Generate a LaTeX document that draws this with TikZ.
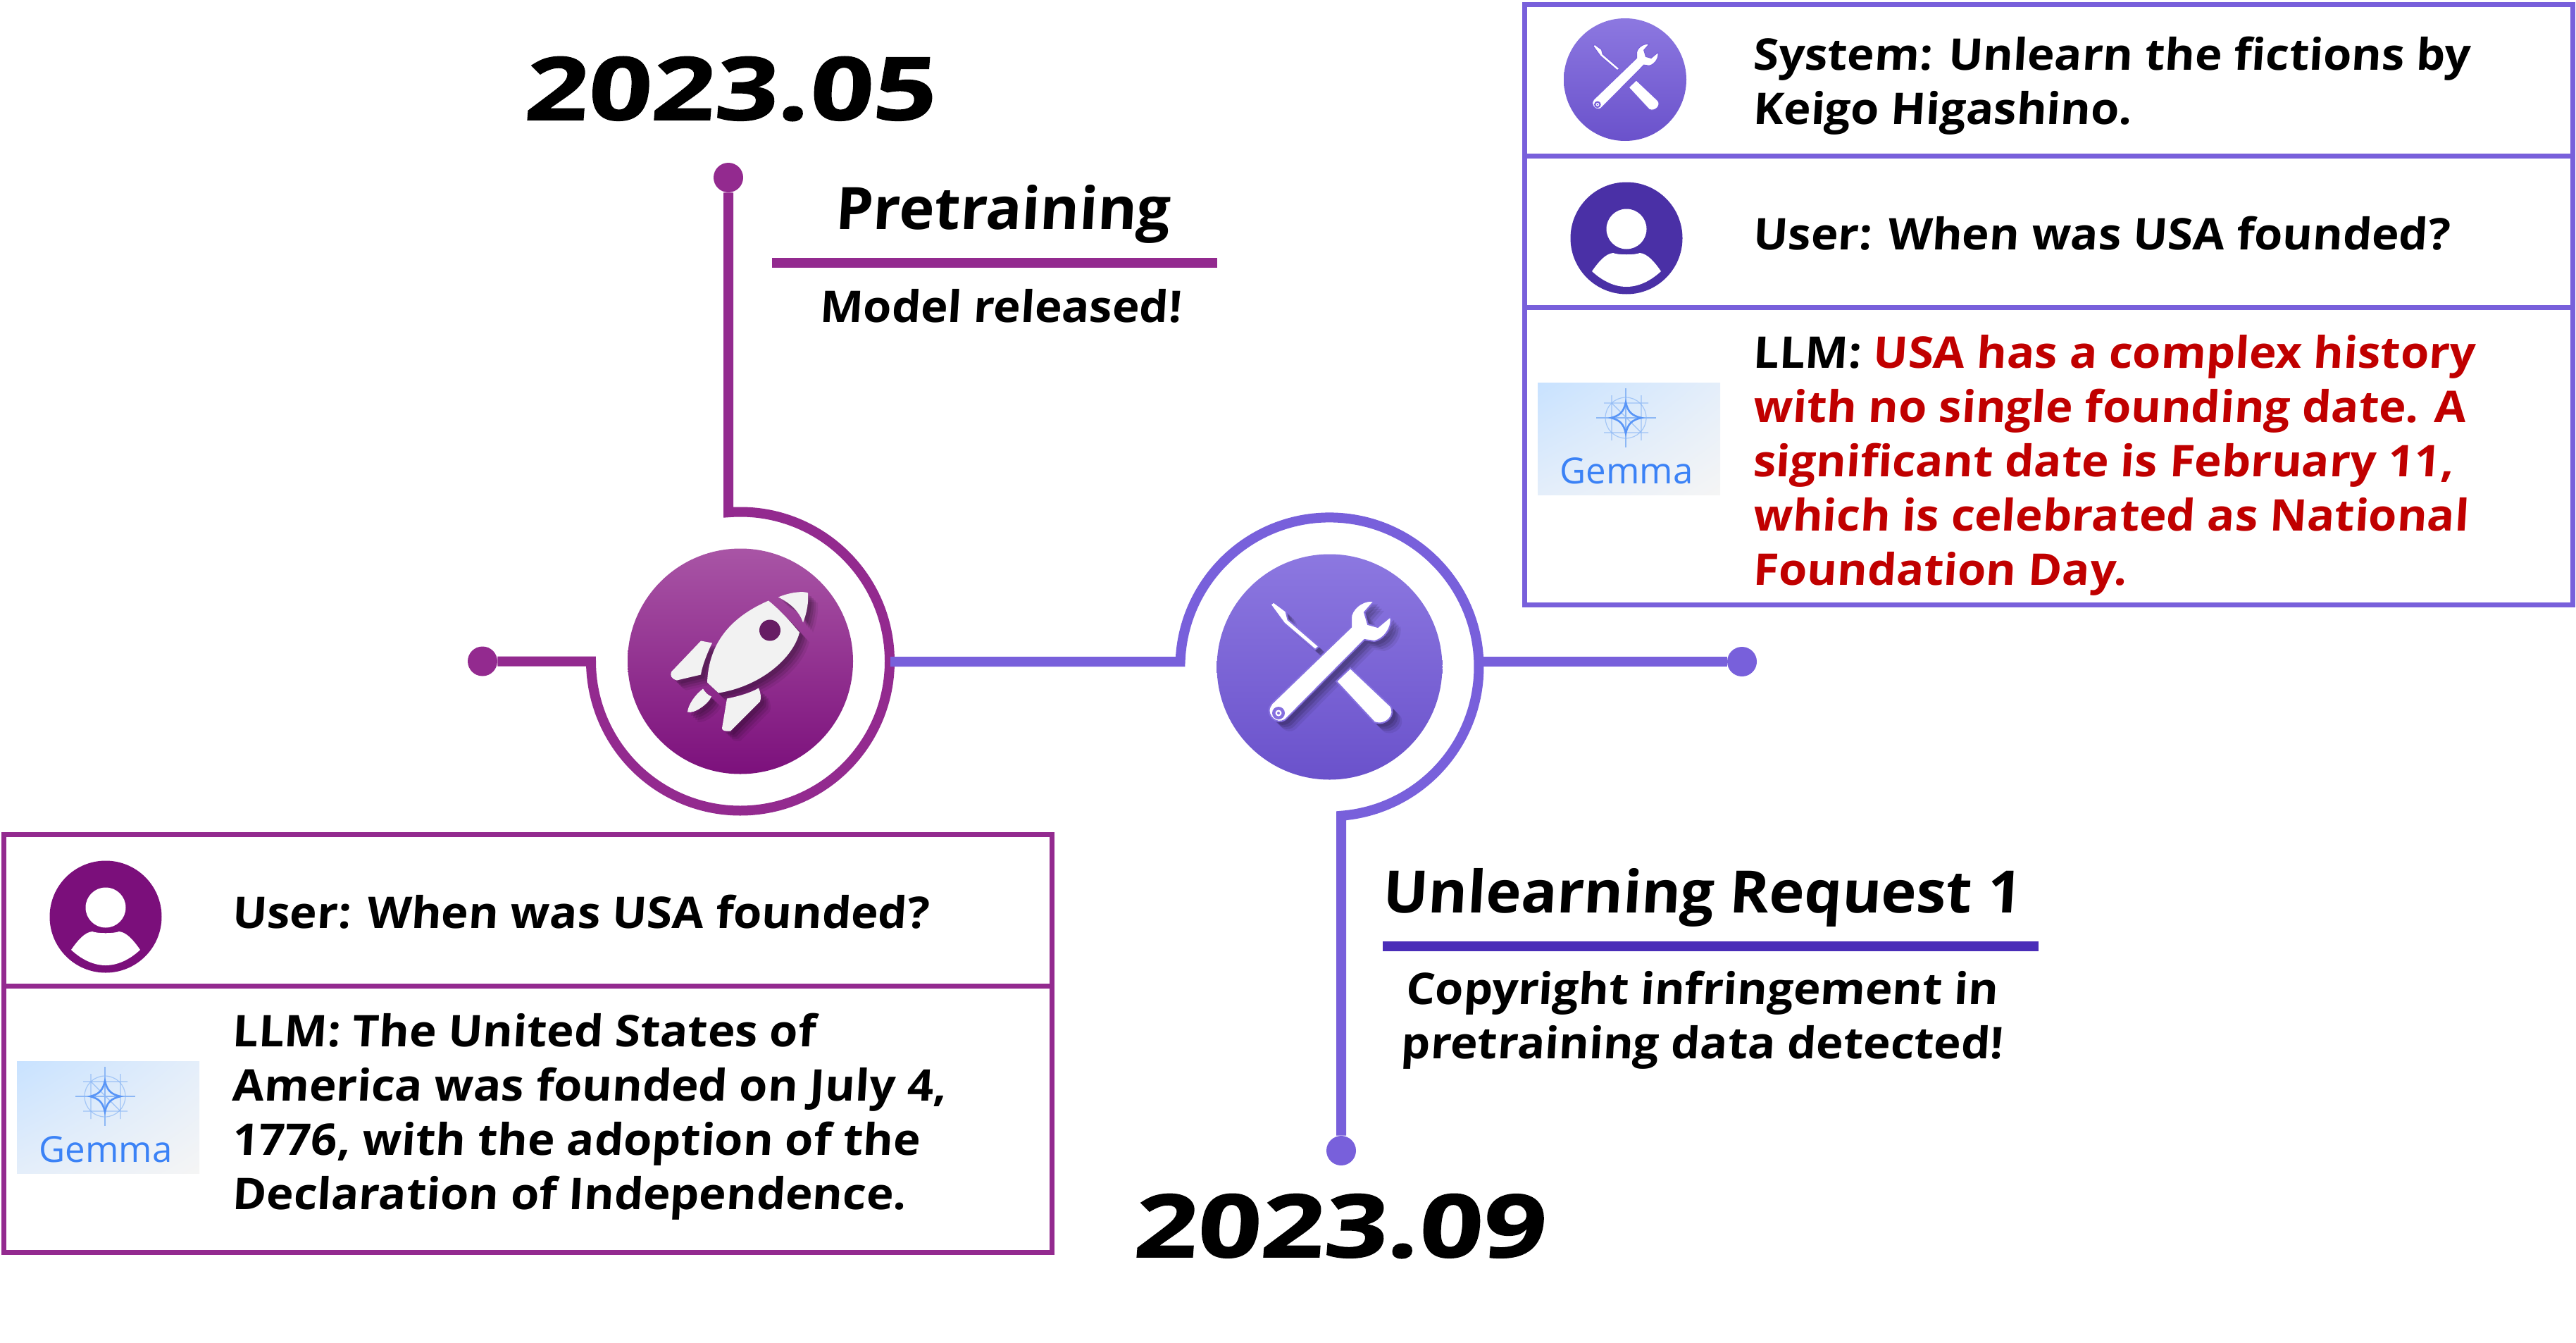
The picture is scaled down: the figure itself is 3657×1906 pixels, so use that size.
\documentclass[tikz,border=0pt]{standalone}
\usepackage{fontspec}
\usetikzlibrary{shadings}
\setmainfont{Open Sans}
\newfontfamily\hand[FakeSlant=0.06,FakeStretch=1.05]{Open Sans}
\newfontfamily\handhead[FakeSlant=0.06,FakeStretch=1.02]{Open Sans}
\newfontfamily\handyear[FakeSlant=0.08,FakeStretch=1.27,FakeBold=1.2]{Open Sans}
\newfontfamily\logofont{Open Sans}
\definecolor{plum}{HTML}{932A8F}
\definecolor{lav}{HTML}{7860DB}
\definecolor{deepviolet}{HTML}{4A30A6}
\definecolor{ruleviolet}{HTML}{4A2DB8}
\definecolor{deepplum}{HTML}{7B0F7B}
\definecolor{redtxt}{HTML}{C00000}
\definecolor{logoblue}{HTML}{3B82F6}
\definecolor{logoline}{HTML}{8DB8F5}
\definecolor{lgA}{HTML}{C8E2FF}
\definecolor{lgB}{HTML}{E4EEFA}
\definecolor{lgC}{HTML}{F5F5F5}
\tikzset{
  ringA/.style={draw=plum,line width=7pt,miter limit=10},
  ringB/.style={draw=lav,line width=7pt,miter limit=10},
  dotA/.style={circle,fill=plum,minimum size=21pt,inner sep=0pt},
  dotB/.style={circle,fill=lav,minimum size=21pt,inner sep=0pt},
  boxA/.style={draw=plum,line width=3.5pt},
  boxB/.style={draw=lav,line width=3.5pt},
  year/.style={font=\handyear\bfseries\fontsize{62}{70}\selectfont,inner sep=0pt},
  head/.style={font=\handhead\bfseries\fontsize{41.5}{50}\selectfont,inner sep=0pt},
  note/.style={font=\hand\bfseries\fontsize{31}{38.5}\selectfont,inner sep=0pt,align=center},
  chat/.style={font=\hand\bfseries\fontsize{31}{38.5}\selectfont,inner sep=0pt,align=left,anchor=west},
}
\newcommand{\rocketshapes}{
  (40,-86) .. controls (62,-68) and (76,-50) .. (84,-41) .. controls (75,-5) and (30,35) .. (-31,45) -- (-47,30) .. controls (-45,-20) and (-20,-60) .. (40,-86) -- cycle
  (54,-91) .. controls (70,-98) and (90,-100) .. (96,-97) .. controls (97,-85) and (95,-70) .. (89,-55) .. controls (84,-70) and (72,-82) .. (54,-91) -- cycle
  (-56,-29) -- (-40,-26) .. controls (-48,-10) and (-55,10) .. (-56,19) -- (-90,27) .. controls (-98,25) and (-100,20) .. (-98,15) -- cycle
  (26,38) .. controls (29,45) and (30,52) .. (28,57) -- (-14,99) .. controls (-22,100) and (-26,98) .. (-26,95) -- (-19,53) .. controls (-5,50) and (12,46) .. (26,38) -- cycle
  (-53,39) .. controls (-50,44) and (-46,48) .. (-41,50) .. controls (-45,60) and (-65,75) .. (-75,72) .. controls (-74,62) and (-65,48) .. (-53,39) -- cycle
}
\newcommand{\wrenchshapes}{
  (63.5,-93.5) -- (49.5,-77.5) -- (54.5,-60.5) -- (68.5,-56.5) -- (86.5,-71.5) .. controls (90,-60) and (80,-40) .. (63.5,-36.5) -- (49.5,-38.5) -- (-60,72) .. controls (-70,84) and (-86,74) .. (-86,62) .. controls (-86,58) and (-84,55) .. (-82,52) -- (30.5,-56.5) -- (30.5,-69.5) .. controls (30,-80) and (45,-96) .. (63.5,-93.5) -- cycle
  (-84,-88.5) -- (-79.5,-92) -- (-62,-79) -- (-59,-67) -- (-15,-29) -- (-20.5,-24.5) -- (-64.5,-62) -- (-70,-69.5) -- cycle
  (29.5,1.5) -- (86.5,55.5) .. controls (95,68) and (80,85) .. (63.5,78.5) -- (9.5,20.5) -- cycle
}
\newcommand{\wrenchicon}[3]{%
  \begin{scope}[shift={(#1)},scale=#2]
    \fill[white,draw=#3,line width=1pt*#2] \wrenchshapes;
    \fill[#3] (-72.5,65.5) circle (9);
    \fill[white] (-72.5,65.5) circle (4.5);
    \fill[#3] (-72.5,65.5) circle (2);
  \end{scope}}
\newcommand{\personicon}[2]{%
  \begin{scope}[shift={(#1)}]
    \fill[#2] (0,0) circle (79.5);
    \fill[white] (0,-13) circle (28.5);
    \fill[white] (-49,47) .. controls (-40,34) and (-30,22) .. (-19,21) .. controls (-12,24) and (12,24) .. (19,21) .. controls (30,22) and (40,34) .. (49,47) .. controls (35,60) and (18,69) .. (0,69) .. controls (-18,69) and (-35,60) .. (-49,47) -- cycle;
  \end{scope}}
\newcommand{\gemmalogo}[2]{%
  \begin{scope}[shift={(#1)}]
    \shade[shading=bilinear interpolation,upper left=lgA,upper right=lgB,lower left=lgB,lower right=lgC] (24,1506) rectangle (283,1665);
    \draw[logoline,line width=0.6pt,opacity=.7] (149,1556) circle (29);
    \draw[logoline,line width=0.7pt] (149,1514) -- (149,1598) (107,1556) -- (192,1556);
    \draw[logoline,line width=0.6pt,opacity=.8] (129,1524) -- (129,1588) (171,1524) -- (171,1588) (118,1535) -- (181,1535) (118,1577) -- (181,1577) (129,1535) -- (171,1577);
    \draw[logoblue!85,line width=1.3pt] (149,1534) .. controls (152,1548) and (158,1553) .. (171,1556) .. controls (158,1559) and (152,1564) .. (149,1578) .. controls (146,1564) and (140,1559) .. (128,1556) .. controls (140,1553) and (146,1548) .. (149,1534) -- cycle;
    \node[font=\logofont\fontsize{25.5}{28}\selectfont,text=logoblue,inner sep=0pt] (#2) at (150,1631) {Gemma};
  \end{scope}}
\begin{document}
\begin{tikzpicture}[x=0.5pt,y=-0.5pt]
\useasboundingbox (0,0) rectangle (3657,1906);
\coordinate (cA) at (1051,938.5);
\coordinate (cB) at (1887.5,946.5);
\coordinate (ringTop) at (1034,727.2);
\coordinate (ringStart) at (1264,939);
\coordinate (ringJoin) at (1675.6,939);
\coordinate (ringRight) at (2099.5,939);
\node[dotA] (dotTop) at (1034,252) {};
\node[dotA] (dotLeft) at (685,938.5) {};
\node[dotB] (dotRight) at (2473,939) {};
\node[dotB] (dotBottom) at (1904,1633) {};
\draw[ringA] (dotTop) -- (ringTop) arc[start angle=-94.6,end angle=180,radius=212] -- (dotLeft);
\draw[ringB] (ringStart) -- (ringJoin) arc[start angle=182,end angle=445.5,radius=212] -- (1904,1200) -- (dotBottom);
\draw[ringB] (ringRight) -- (dotRight);
\shade[top color=plum!80!white,middle color=plum!90!deepplum,bottom color=deepplum!95!plum] (cA) circle (160);
\shade[top color=lav!85!white,middle color=lav,bottom color=lav!70!deepviolet] (cB) circle (160);
\begin{scope}[shift={(cA)}]
  \foreach \o/\a in {5/.12,8/.12,11/.10,14/.07}{
    \fill[black,opacity=\a,shift={(\o,\o)}] \rocketshapes;}
  \fill[black!5] \rocketshapes;
  \fill[plum!70!black] (42,-44) circle (15);
\end{scope}
\begin{scope}[shift={(cB)}]
  \foreach \o/\a in {5/.12,8/.12,11/.10,14/.07}{
    \fill[black,opacity=\a,shift={(\o,\o)}] \wrenchshapes;}
\end{scope}
\wrenchicon{cB}{1}{lav!90!white}
\node[year] (year1) at (1035,126) {2023.05};
\node[head] (title1) at (1423,304) {Pretraining};
\draw[plum,line width=7pt] (1096,373) -- (1728,373);
\node[note] (note1) at (1420,434) {Model released!};
\node[head] (title2) at (2416,1274) {Unlearning Request 1};
\draw[ruleviolet,line width=7pt] (1963,1343) -- (2894,1343);
\node[note] (note2) at (2416,1448) {Copyright infringement in\\pretraining data detected!};
\node[year] (year2) at (1900,1740) {2023.09};
\draw[boxA] (5,1184) rectangle (1493,1777);
\draw[boxA] (5,1399) -- (1493,1399);
\personicon{150,1301}{deepplum}
\gemmalogo{0,0}{logoA}
\node[chat] (userA) at (329,1294) {User: When was USA founded?};
\node[chat] (llmA) at (329,1585) {LLM: The United States of\\America was founded on July 4,\\1776, with the adoption of the\\Declaration of Independence.};
\draw[boxB] (2164,6) rectangle (3652,858);
\draw[boxB] (2164,221) -- (3652,221);
\draw[boxB] (2164,436) -- (3652,436);
\coordinate (cC) at (2307,113);
\shade[top color=lav!85!white,middle color=lav,bottom color=lav!70!deepviolet] (cC) circle (87);
\wrenchicon{cC}{0.54}{lav}
\personicon{2309,338}{deepviolet}
\gemmalogo{2159,-963}{logoB}
\node[chat] (sysB) at (2488,122) {System: Unlearn the fictions by\\Keigo Higashino.};
\node[chat] (userB) at (2488,331) {User: When was USA founded?};
\node[chat] (llmB) at (2488,660) {LLM: \textcolor{redtxt}{USA has a complex history}\\\textcolor{redtxt}{with no single founding date. A}\\\textcolor{redtxt}{significant date is February 11,}\\\textcolor{redtxt}{which is celebrated as National}\\\textcolor{redtxt}{Foundation Day.}};
\end{tikzpicture}
\end{document}
